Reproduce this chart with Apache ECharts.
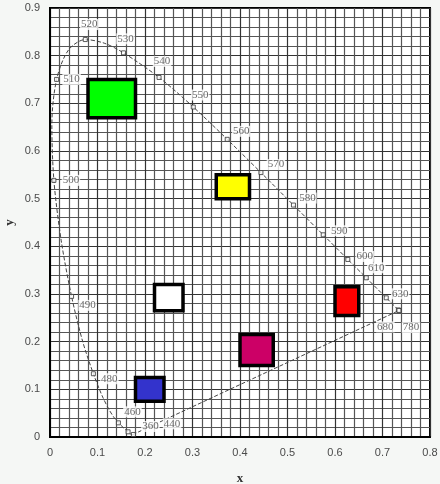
<!DOCTYPE html>
<html>
<head>
<meta charset="utf-8">
<script src="https://cdn.jsdelivr.net/npm/echarts@6/dist/echarts.min.js"></script>
<style>
  html, body { margin: 0; padding: 0; background: #f5f7f5; }
  #chart { width: 440px; height: 484px; }
</style>
</head>
<body>
<div id="chart"></div>
<script>
// CIE 1931 spectral locus (chromaticity x, y) by wavelength in nm
const wavelengths = [360, 380, 400, 420, 430, 440, 450, 460, 465, 470, 475, 480, 485, 490, 495,
  500, 505, 510, 515, 520, 525, 530, 540, 550, 560, 570, 580, 590, 600, 610, 620, 630, 640, 650, 660, 680, 700, 780];
const locusX = [0.1756, 0.1741, 0.1733, 0.1714, 0.1689, 0.1644, 0.1566, 0.1440, 0.1355, 0.1241, 0.1096, 0.0913, 0.0687, 0.0454, 0.0235,
  0.0082, 0.0039, 0.0139, 0.0389, 0.0743, 0.1142, 0.1547, 0.2296, 0.3016, 0.3731, 0.4441, 0.5125, 0.5752, 0.6270, 0.6658, 0.6915, 0.7079, 0.7190, 0.7260, 0.7300, 0.7334, 0.7347, 0.7347];
const locusY = [0.0053, 0.0050, 0.0048, 0.0051, 0.0069, 0.0109, 0.0177, 0.0297, 0.0399, 0.0578, 0.0868, 0.1327, 0.2007, 0.2950, 0.4127,
  0.5384, 0.6548, 0.7502, 0.8120, 0.8338, 0.8262, 0.8059, 0.7543, 0.6923, 0.6245, 0.5547, 0.4866, 0.4242, 0.3725, 0.3340, 0.3083, 0.2920, 0.2809, 0.2740, 0.2700, 0.2666, 0.2653, 0.2653];

// Wavelengths marked and labelled on the locus
const markedWavelengths = [360, 440, 460, 480, 490, 500, 510, 520, 530, 540, 550, 560, 570, 580, 590, 600, 610, 630, 680, 780];

// Ends of the line of purples
const purpleEnds = [380, 780];

// Colour samples: chromaticity boxes
const sampleNames = ['green', 'yellow', 'white', 'red', 'magenta', 'blue'];
const sampleX0 = [0.08, 0.35, 0.22, 0.60, 0.40, 0.18];
const sampleX1 = [0.18, 0.42, 0.28, 0.65, 0.47, 0.24];
const sampleY0 = [0.67, 0.50, 0.265, 0.255, 0.15, 0.075];
const sampleY1 = [0.75, 0.55, 0.32, 0.315, 0.215, 0.125];

// Axis tick values
const xTicks = [0, 0.1, 0.2, 0.3, 0.4, 0.5, 0.6, 0.7, 0.8];
const yTicks = [0, 0.1, 0.2, 0.3, 0.4, 0.5, 0.6, 0.7, 0.8, 0.9];

// ---- presentation ----
const sampleFill = {
  green: '#00ff00', yellow: '#ffff00', white: '#ffffff',
  red: '#ff0000', magenta: '#cc0066', blue: '#3333cc'
};
const labelOffset = {
  360: [17, -8], 440: [44, -8], 460: [14, -11], 480: [16, 5], 490: [16, 9],
  500: [17, 0], 510: [15, 0], 520: [4, -15], 530: [2, -14], 540: [3, -16],
  550: [7, -12], 560: [14, -8], 570: [15, -8], 580: [14, -7], 590: [16, -4],
  600: [17, -3], 610: [10, -10], 630: [14, -4], 680: [-13, 17], 780: [12, 17]
};

const pointOf = wl => {
  const i = wavelengths.indexOf(wl);
  return [locusX[i], locusY[i]];
};

const locusData = wavelengths.map((wl, i) => [locusX[i], locusY[i]]);
const markerData = markedWavelengths.map(wl => ({
  value: pointOf(wl),
  name: String(wl),
  label: { offset: labelOffset[wl] }
}));
const sampleData = sampleNames.map((n, i) => [sampleX0[i], sampleX1[i], sampleY0[i], sampleY1[i], i]);

const chart = echarts.init(document.getElementById('chart'), null, { renderer: 'canvas' });

const axisCommon = {
  type: 'value',
  interval: 0.1,
  nameMoveOverlap: false,
  axisLine: { show: true, lineStyle: { color: '#000', width: 2 } },
  axisTick: { show: false },
  minorTick: { show: false, splitNumber: 5 },
  splitLine: { show: true, lineStyle: { color: '#333', width: 1.2 } },
  minorSplitLine: { show: true, lineStyle: { color: '#555', width: 1.2 } },
  axisLabel: {
    color: '#4a4a4a',
    fontFamily: 'Liberation Sans, Arial, sans-serif',
    fontSize: 11,
    margin: 10
  },
  nameTextStyle: {
    color: '#333',
    fontFamily: 'Liberation Serif, serif',
    fontWeight: 'bold',
    fontSize: 13
  }
};

chart.setOption({
  animation: false,
  backgroundColor: '#f5f7f5',
  grid: {
    left: 50, right: 10, top: 8, bottom: 47,
    outerBoundsMode: 'none',
    containLabel: false,
    show: true, backgroundColor: '#ffffff',
    borderColor: '#000', borderWidth: 2
  },
  xAxis: Object.assign({}, axisCommon, {
    min: xTicks[0], max: xTicks[xTicks.length - 1],
    name: 'x', nameLocation: 'middle', nameGap: 35
  }),
  yAxis: Object.assign({}, axisCommon, {
    min: yTicks[0], max: yTicks[yTicks.length - 1],
    name: 'y', nameLocation: 'middle', nameGap: 34, nameRotate: 90
  }),
  series: [
    {
      // spectral locus
      type: 'line',
      data: locusData,
      smooth: 0.3,
      symbol: 'none',
      lineStyle: { color: '#444', width: 1, type: [4, 2] },
      z: 3
    },
    {
      // line of purples
      type: 'line',
      data: purpleEnds.map(pointOf),
      symbol: 'none',
      lineStyle: { color: '#444', width: 1, type: [4, 2] },
      z: 3
    },
    {
      // wavelength markers and labels
      type: 'scatter',
      data: markerData,
      symbol: 'rect',
      symbolSize: 4,
      itemStyle: { color: '#fff', borderColor: '#333', borderWidth: 1 },
      label: {
        show: true,
        position: 'inside',
        formatter: p => p.name,
        color: '#444',
        fontFamily: 'Liberation Serif, serif',
        fontSize: 11,
        backgroundColor: '#fff',
        padding: [0, 1]
      },
      z: 4
    },
    {
      // colour sample boxes
      type: 'custom',
      data: sampleData,
      renderItem: (params, api) => {
        const tl = api.coord([api.value(0), api.value(3)]);
        const br = api.coord([api.value(1), api.value(2)]);
        const name = sampleNames[api.value(4)];
        return {
          type: 'rect',
          shape: { x: tl[0], y: tl[1], width: br[0] - tl[0], height: br[1] - tl[1] },
          style: { fill: sampleFill[name], stroke: '#000', lineWidth: 3.5 }
        };
      },
      z: 5
    }
  ]
});
</script>
</body>
</html>
